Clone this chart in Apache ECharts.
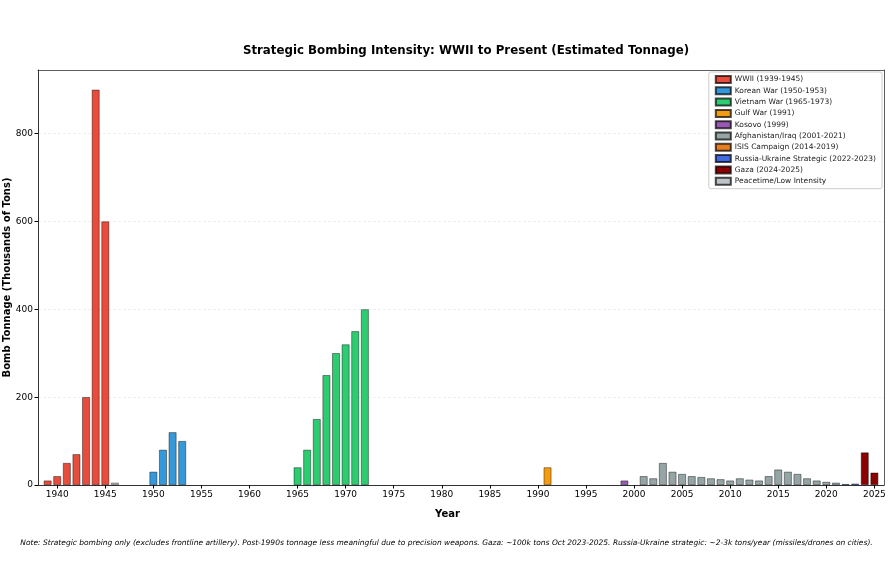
<!DOCTYPE html>
<html>
<head>
<meta charset="utf-8">
<script src="https://cdn.jsdelivr.net/npm/echarts@6/dist/echarts.min.js"></script>
<style>
html,body{margin:0;padding:0;background:#fff;}
#chart{width:893px;height:564px;}
</style>
</head>
<body>
<div id="chart"></div>
<script>
// ---- Data (thousands of tons) ----
const wwiiYears = [1939, 1940, 1941, 1942, 1943, 1944, 1945];
const wwiiValues = [10, 20, 50, 70, 200, 900, 600];

const koreaYears = [1950, 1951, 1952, 1953];
const koreaValues = [30, 80, 120, 100];

const vietnamYears = [1965, 1966, 1967, 1968, 1969, 1970, 1971, 1972];
const vietnamValues = [40, 80, 150, 250, 300, 320, 350, 400];

const gulfYears = [1991];
const gulfValues = [40];

const kosovoYears = [1999];
const kosovoValues = [10];

const afghanIraqYears = [2001, 2002, 2003, 2004, 2005, 2006, 2007, 2008, 2009, 2010, 2011,
  2012, 2013, 2014, 2015, 2016, 2017, 2018, 2019, 2020, 2021];
const afghanIraqValues = [20, 15, 50, 30, 25, 20, 18, 15, 13, 10, 15,
  12, 10, 20, 35, 30, 25, 15, 10, 7, 5];

const isisYears = [];
const isisValues = [];

const ukraineYears = [2022, 2023];
const ukraineValues = [2, 3];

const gazaYears = [2024, 2025];
const gazaValues = [74, 28];

const peaceYears = [1946];
const peaceValues = [5];

const xTickLabels = [1940, 1945, 1950, 1955, 1960, 1965, 1970, 1975, 1980, 1985,
  1990, 1995, 2000, 2005, 2010, 2015, 2020, 2025];

const groups = [
  {name: 'WWII (1939-1945)', years: wwiiYears, values: wwiiValues, color: '#e74c3c'},
  {name: 'Korean War (1950-1953)', years: koreaYears, values: koreaValues, color: '#3498db'},
  {name: 'Vietnam War (1965-1973)', years: vietnamYears, values: vietnamValues, color: '#2ecc71'},
  {name: 'Gulf War (1991)', years: gulfYears, values: gulfValues, color: '#f39c12'},
  {name: 'Kosovo (1999)', years: kosovoYears, values: kosovoValues, color: '#9b59b6'},
  {name: 'Afghanistan/Iraq (2001-2021)', years: afghanIraqYears, values: afghanIraqValues, color: '#95a5a6'},
  {name: 'ISIS Campaign (2014-2019)', years: isisYears, values: isisValues, color: '#e67e22'},
  {name: 'Russia-Ukraine Strategic (2022-2023)', years: ukraineYears, values: ukraineValues, color: '#4169e1'},
  {name: 'Gaza (2024-2025)', years: gazaYears, values: gazaValues, color: '#8b0000'},
  {name: 'Peacetime/Low Intensity', years: peaceYears, values: peaceValues, color: '#bdc3c7'}
];

const FONT = 'DejaVu Sans';
const chart = echarts.init(document.getElementById('chart'), null, {renderer: 'canvas'});

const gridLeft = 38, gridRight = 9;
const xMin = 1938, xMax = 2026;
const yMax = 945;
const barPx = (893 - gridLeft - gridRight) / (xMax - xMin) * 0.8;

const series = groups.map(g => ({
  name: g.name,
  type: 'bar',
  data: g.years.map((y, i) => [y, g.values[i]]),
  barWidth: barPx,
  barGap: '-100%',
  itemStyle: {color: g.color, borderColor: 'rgba(0,0,0,0.7)', borderWidth: 0.6},
  emphasis: {disabled: true},
  animation: false
}));

const frameAxisLine = {show: true, onZero: false, lineStyle: {color: '#333', width: 0.8}};

chart.setOption({
  animation: false,
  backgroundColor: '#fff',
  title: {
    text: 'Strategic Bombing Intensity: WWII to Present (Estimated Tonnage)',
    left: 461, top: 40, textAlign: 'center',
    textStyle: {fontFamily: FONT, fontSize: 11.8, fontWeight: 'bold', color: '#000'}
  },
  legend: {
    orient: 'vertical',
    right: 11, top: 72,
    itemWidth: 15, itemHeight: 7, itemGap: 2.3,
    icon: 'rect',
    backgroundColor: '#fff',
    borderColor: '#ccc', borderWidth: 1, borderRadius: 2,
    padding: [3, 6, 3, 6],
    textStyle: {fontFamily: FONT, fontSize: 7.5, color: '#222', padding: [0, 0, 0, -1]},
    data: groups.map(g => g.name)
  },
  grid: {
    left: gridLeft, right: gridRight, top: 70, bottom: 79,
    containLabel: false, outerBoundsMode: 'none',
    show: false
  },
  xAxis: [{
    type: 'value', min: xMin, max: xMax,
    axisLine: {show: true, onZero: false, lineStyle: {color: '#000', width: 0.8}},
    axisTick: {show: true, length: 3.5, customValues: xTickLabels, lineStyle: {color: '#000'}},
    axisLabel: {customValues: xTickLabels, formatter: v => String(v), fontFamily: FONT, fontSize: 9, color: '#000', margin: 5},
    splitLine: {show: false}
  }, {
    type: 'value', position: 'top', min: xMin, max: xMax,
    axisLine: frameAxisLine, axisTick: {show: false}, axisLabel: {show: false}, splitLine: {show: false}
  }],
  yAxis: [{
    type: 'value', min: 0, max: yMax, interval: 200,
    name: 'Bomb Tonnage (Thousands of Tons)',
    nameLocation: 'middle', nameGap: 26, nameMoveOverlap: false,
    nameTextStyle: {fontFamily: FONT, fontSize: 10, fontWeight: 'bold', color: '#000'},
    axisLine: {show: true, lineStyle: {color: '#000', width: 0.8}},
    axisTick: {show: true, length: 3.5, lineStyle: {color: '#000'}},
    axisLabel: {fontFamily: FONT, fontSize: 9, color: '#000', margin: 5, showMaxLabel: false},
    splitLine: {show: true, showMaxLine: false, lineStyle: {color: '#e8e8e8', type: [3, 2], width: 0.7}}
  }, {
    type: 'value', position: 'right', min: 0, max: yMax,
    axisLine: frameAxisLine, axisTick: {show: false}, axisLabel: {show: false}, splitLine: {show: false}
  }],
  graphic: [
    {type: 'text', x: 447.5, y: 509, style: {text: 'Year', fontFamily: FONT, fontSize: 10, fontWeight: 'bold', fill: '#000', textAlign: 'center'}},
    {type: 'text', x: 446.5, y: 539, style: {
      text: 'Note: Strategic bombing only (excludes frontline artillery). Post-1990s tonnage less meaningful due to precision weapons. Gaza: ~100k tons Oct 2023-2025. Russia-Ukraine strategic: ~2-3k tons/year (missiles/drones on cities).',
      fontFamily: FONT, fontSize: 7.5, fontStyle: 'italic', fill: '#000', textAlign: 'center'}}
  ],
  series: series
});
</script>
</body>
</html>
